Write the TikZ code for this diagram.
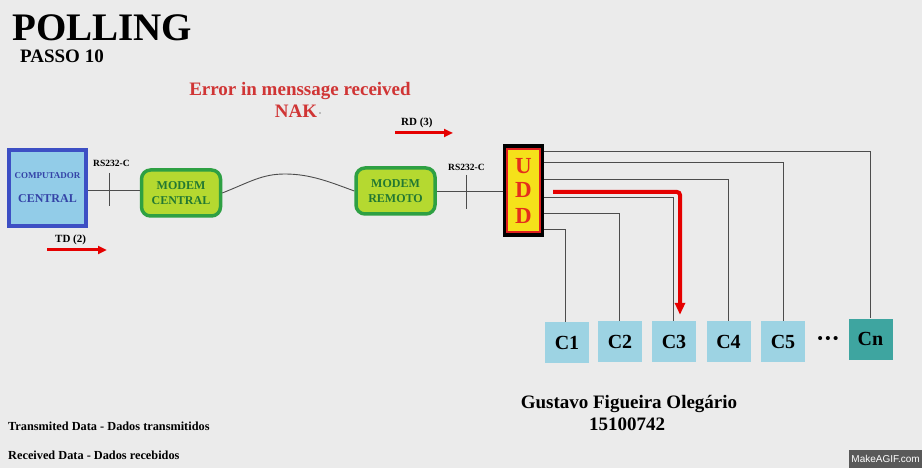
\documentclass[tikz,border=0pt]{standalone}
\usepackage{fontspec}
\setmainfont{Liberation Serif}
\newfontfamily\wmfont{Liberation Sans}
\usetikzlibrary{arrows.meta,calc,positioning}

\definecolor{bgGray}{HTML}{EBEBEB}
\definecolor{compBlue}{HTML}{3D4FC4}
\definecolor{compFill}{HTML}{92CCE8}
\definecolor{modemGreen}{HTML}{2EA043}
\definecolor{modemFill}{HTML}{B5D930}
\definecolor{uddYellow}{HTML}{F5E11A}
\definecolor{uddRed}{HTML}{E02020}
\definecolor{termFill}{HTML}{9DD3E3}
\definecolor{termDark}{HTML}{3EA5A0}
\definecolor{msgRed}{HTML}{D03535}

\tikzset{
    compbox/.style={draw=compBlue, line width=4pt, fill=compFill, minimum width=77pt, minimum height=76pt,
        align=center, text=compBlue!85!black, inner sep=0pt},
    modembox/.style={draw=modemGreen, line width=3.5pt, fill=modemFill, rounded corners=9pt,
        minimum width=79pt, minimum height=46pt, align=center, text=modemGreen!75!black,
        font=\fontsize{12}{15}\selectfont\bfseries, inner sep=0pt},
    uddbox/.style={draw=black, line width=4pt, fill=uddYellow, minimum width=37pt, minimum height=89pt,
        align=center, text=uddRed!85!orange, font=\fontsize{23}{26}\selectfont\bfseries, inner sep=0pt},
    termbox/.style={fill=termFill, minimum width=44pt, minimum height=41pt, inner sep=0pt,
        font=\fontsize{20}{20}\selectfont\bfseries},
    wire/.style={draw=black!70, line width=0.9pt},
    flow/.style={draw=red!90!black, line width=3pt, -{Triangle[length=9pt,width=8pt]}},
    smalllabel/.style={font=\fontsize{9.5}{10}\selectfont\bfseries, inner sep=0pt}
}

\begin{document}
\begin{tikzpicture}[x=1pt, y=-1pt]
    % Background and fixed frame
    \fill[bgGray] (0,0) rectangle (922,468);
    \useasboundingbox (0,0) rectangle (922,468);

    % Titles
    \node[anchor=base west, inner sep=0pt, text depth=0pt, font=\fontsize{39}{39}\selectfont\bfseries] (title) at (12,41) {POLLING};
    \node[anchor=base west, inner sep=0pt, text height=12.5pt, font=\fontsize{19}{19}\selectfont\bfseries] (step) at (20,63) {PASSO 10};
    \node[anchor=base, inner sep=0pt, text=msgRed, font=\fontsize{19}{19}\selectfont\bfseries] (error) at (300,96) {Error in menssage received};
    \node[anchor=base, inner sep=0pt, text=msgRed, font=\fontsize{19}{19}\selectfont\bfseries] (nak) at (296,118) {NAK};
    \fill[black!45] (320,113) circle (0.8pt); % faint dot after NAK

    % Main blocks
    \node[compbox] (comp) at (47.5,188) {{\fontsize{9}{9}\selectfont\bfseries COMPUTADOR}\\[12pt]{\fontsize{12}{12}\selectfont\bfseries CENTRAL}};
    \node[modembox] (mcentral) at (181,193) {MODEM\\CENTRAL};
    \node[modembox] (mremote) at (395.5,191) {MODEM\\REMOTO};
    \node[uddbox] (udd) at (523.5,190.5) {\raisebox{-2pt}{U}\\D\\D};
    \draw[uddRed, line width=2pt] (507,149) rectangle (540,232);

    % Terminals
    \node[termbox] (c1) at (567,342.5) {C1};
    \node[termbox] (c2) at (620,341.5) {C2};
    \node[termbox] (c3) at (674,341.5) {C3};
    \node[termbox] (c4) at (728.5,341.5) {C4};
    \node[termbox] (c5) at (783,341.5) {C5};
    \node[termbox, fill=termDark] (cn) at (870.5,339) {Cn};
    \node[font=\fontsize{15}{15}\selectfont\bfseries] (dots) at (828,340) {\textbullet\,\textbullet\,\textbullet};

    % Links
    \draw[wire] (comp.east |- 0,190) -- (mcentral.west |- 0,190);
    \draw[wire] (mcentral.east) .. controls (250,182) and (262,174) .. (285,174)
        .. controls (310,174) and (330,182) .. (mremote.west);
    \draw[wire] (mremote.east) -- (udd.west |- mremote.east);
    \draw[wire] (109,173) -- (109,206);
    \draw[wire] (466,175) -- (466,209);
    \node[smalllabel, anchor=base west] (rsA) at (93,167) {RS232-C};
    \node[smalllabel, anchor=base west] (rsB) at (448,171) {RS232-C};

    % UDD to terminals
    \draw[wire] ($(udd.east)+(0,-39)$) -| (cn.north);
    \draw[wire] ($(udd.east)+(0,-28)$) -| (c5.north);
    \draw[wire] ($(udd.east)+(0,-11)$) -| (c4.north);
    \draw[wire] ($(udd.east)+(0,7)$) -| ([xshift=-1pt]c3.north);
    \draw[wire] ($(udd.east)+(0,23)$) -| ([xshift=-1pt]c2.north);
    \draw[wire] ($(udd.east)+(0,39)$) -| ([xshift=-2pt]c1.north);

    % Data flow arrows
    \coordinate (pollStart) at (553,192);
    \draw[flow, line width=4pt, rounded corners=3pt, -{Triangle[length=12pt,width=10pt]}]
        (pollStart) -| ([xshift=6pt, yshift=6pt]c3.north);
    \node[anchor=base west, inner sep=0pt, font=\fontsize{11}{11}\selectfont\bfseries] (rd) at (401,126) {RD (3)};
    \coordinate (rdStart) at (395,133);
    \draw[flow] (rdStart) -- ++(58,0);
    \node[anchor=base west, inner sep=0pt, font=\fontsize{11}{11}\selectfont\bfseries] (td) at (55,243) {TD (2)};
    \coordinate (tdStart) at (47,250);
    \draw[flow] (tdStart) -- ++(60,0);

    % Author and legend
    \node[anchor=base, inner sep=0pt, font=\fontsize{19}{19}\selectfont\bfseries] (author) at (629,408) {Gustavo Figueira Olegário};
    \node[anchor=base, inner sep=0pt, font=\fontsize{19}{19}\selectfont\bfseries] (number) at (627,430) {15100742};
    \node[anchor=base west, inner sep=0pt, font=\fontsize{12.3}{12}\selectfont\bfseries] (legTD) at (8,430) {Transmited Data - Dados transmitidos};
    \node[anchor=base west, inner sep=0pt, font=\fontsize{12.3}{12}\selectfont\bfseries] (legRD) at (8,459) {Received Data - Dados recebidos};

    % Watermark
    \node[fill=black!65, text=white, anchor=south east, inner sep=2pt, minimum height=18pt,
        font=\wmfont\fontsize{10}{10}\selectfont] (mark) at (922,468) {MakeAGIF.com};
\end{tikzpicture}
\end{document}
